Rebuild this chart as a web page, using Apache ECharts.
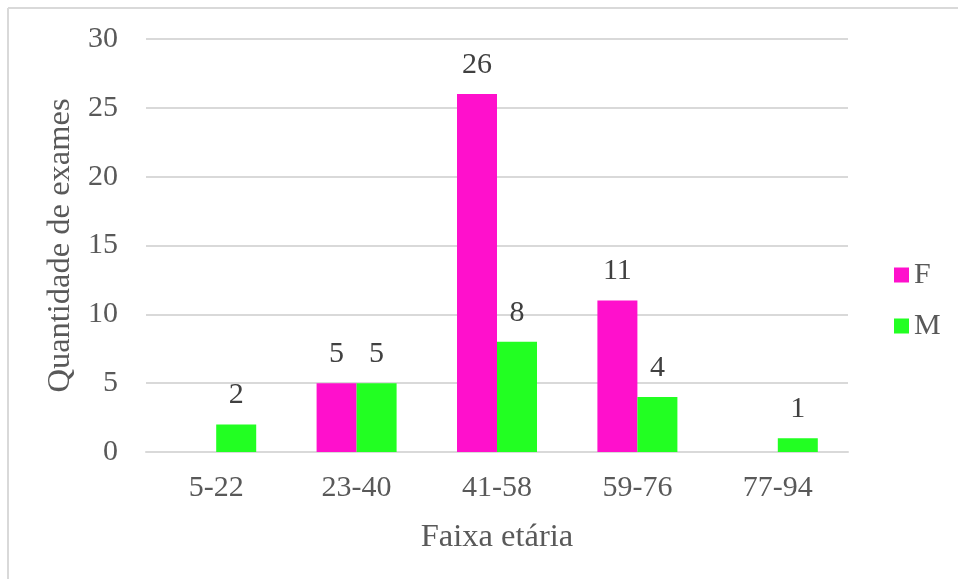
<!DOCTYPE html>
<html>
<head>
<meta charset="utf-8">
<script src="https://cdn.jsdelivr.net/npm/echarts@6/dist/echarts.min.js"></script>
<style>
  html, body { margin: 0; padding: 0; background: #fff; }
  #chart { width: 958px; height: 579px; }
</style>
</head>
<body>
<div id="chart"></div>
<script>
// Age ranges and exam counts per sex
const categories = ['5-22', '23-40', '41-58', '59-76', '77-94'];
const femaleCounts = [0, 5, 26, 11, 0];
const maleCounts = [2, 5, 8, 4, 1];
const seriesNames = ['F', 'M'];

const FONT = '"Liberation Serif", "Times New Roman", serif';

const chart = echarts.init(document.getElementById('chart'), null, { renderer: 'canvas' });

const barLabel = {
  show: true,
  position: 'top',
  distance: 14,
  fontFamily: FONT,
  fontSize: 30,
  color: '#404040',
  formatter: p => (p.value === 0 ? '' : String(p.value))
};

chart.setOption({
  animation: false,
  backgroundColor: '#ffffff',
  graphic: [
    { type: 'line', shape: { x1: 8, y1: 8, x2: 958, y2: 8 }, style: { stroke: '#d9d9d9', lineWidth: 2 } },
    { type: 'line', shape: { x1: 8, y1: 8, x2: 8, y2: 579 }, style: { stroke: '#d9d9d9', lineWidth: 2 } }
  ],
  grid: { left: 146, right: 110, top: 39, bottom: 127 },
  legend: {
    orient: 'vertical',
    left: 889,
    top: 255,
    itemWidth: 15,
    itemHeight: 15,
    itemGap: 21,
    icon: 'rect',
    textStyle: { fontFamily: FONT, fontSize: 30, color: '#595959', lineHeight: 30 },
    data: seriesNames
  },
  xAxis: {
    type: 'category',
    data: categories,
    name: 'Faixa etária',
    nameLocation: 'middle',
    nameGap: 69,
    nameTextStyle: { fontFamily: FONT, fontSize: 32.5, color: '#595959' },
    axisLine: { lineStyle: { color: '#d9d9d9', width: 2 } },
    axisTick: { show: false },
    axisLabel: { fontFamily: FONT, fontSize: 30, color: '#595959', margin: 21 }
  },
  yAxis: {
    type: 'value',
    min: 0,
    max: 30,
    interval: 5,
    name: 'Quantidade de exames',
    nameLocation: 'middle',
    nameGap: 68,
    nameTextStyle: { fontFamily: FONT, fontSize: 32.5, color: '#595959' },
    axisLine: { show: false },
    axisTick: { show: false },
    splitLine: { lineStyle: { color: '#d9d9d9', width: 2 } },
    axisLabel: { fontFamily: FONT, fontSize: 30, color: '#595959', margin: 28 }
  },
  series: [
    {
      name: seriesNames[0],
      type: 'bar',
      data: femaleCounts,
      barWidth: 40,
      barGap: '0%',
      itemStyle: { color: '#ff10cc' },
      label: barLabel
    },
    {
      name: seriesNames[1],
      type: 'bar',
      data: maleCounts,
      barWidth: 40,
      barGap: '0%',
      itemStyle: { color: '#22ff22' },
      label: barLabel
    }
  ]
});
</script>
</body>
</html>
